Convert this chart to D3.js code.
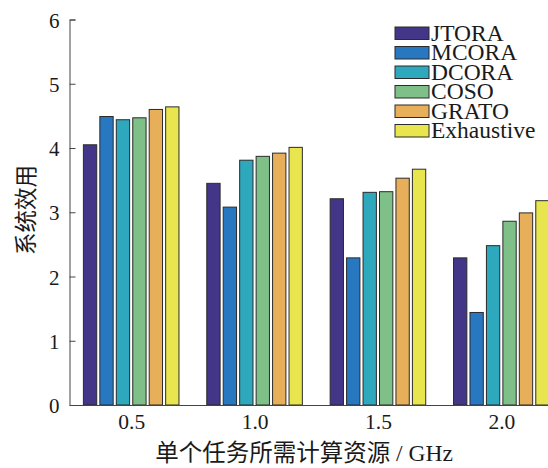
<!DOCTYPE html>
<html>
<head>
<meta charset="utf-8">
<script src="https://cdn.jsdelivr.net/npm/d3@7"></script>
<style>
  html, body { margin: 0; padding: 0; background: #fff; }
  svg { display: block; }
</style>
</head>
<body>
<svg id="chart" width="548" height="468"></svg>
<script>
// Computing resource per task (GHz) and the methods compared
const categories = ["0.5", "1.0", "1.5", "2.0"];
const seriesNames = ["JTORA", "MCORA", "DCORA", "COSO", "GRATO", "Exhaustive"];
const seriesColors = ["#433688", "#2877c1", "#2ea8bd", "#7fbf88", "#e7af59", "#e8e54f"];

// System utility per method, one value per category
const JTORA      = [4.05, 3.45, 3.21, 2.29];
const MCORA      = [4.49, 3.08, 2.29, 1.44];
const DCORA      = [4.44, 3.81, 3.31, 2.48];
const COSO       = [4.47, 3.87, 3.32, 2.86];
const GRATO      = [4.60, 3.92, 3.53, 2.99];
const Exhaustive = [4.64, 4.01, 3.67, 3.18];
const seriesValues = [JTORA, MCORA, DCORA, COSO, GRATO, Exhaustive];

const yTicks = [0, 1, 2, 3, 4, 5, 6];

const svg = d3.select("#chart");
const serif = "'Liberation Serif', 'Times New Roman', serif";
const cjk = "'Noto Sans CJK SC', 'Noto Serif CJK SC', sans-serif";

// Positions: categories sit at 1..4 on a [0.5, 4.5] axis
const x = d3.scaleLinear().domain([0.5, 4.5]).range([69.5, 563]);
const y = d3.scaleLinear().domain([0, 6]).range([405, 19.5]);

const step = x(2) - x(1);
const pitch = step * 0.8 / seriesNames.length;
const barW = pitch * 0.81;

// Bars
const groups = svg.append("g").selectAll("g")
  .data(categories)
  .join("g");

groups.selectAll("rect")
  .data((c, i) => seriesValues.map((vals, s) => ({ s, v: vals[i], c: i + 1 })))
  .join("rect")
  .attr("x", d => x(d.c) + (d.s - (seriesNames.length - 1) / 2) * pitch - barW / 2)
  .attr("y", d => y(d.v))
  .attr("width", barW)
  .attr("height", d => y(0) - y(d.v))
  .attr("fill", d => seriesColors[d.s])
  .attr("stroke", "#2b2b2b")
  .attr("stroke-width", 1);

// Y axis with inward ticks
const yAxis = svg.append("g")
  .attr("transform", `translate(${x(0.5)},0)`)
  .call(d3.axisLeft(y).tickValues(yTicks).tickSize(-6).tickPadding(10).tickFormat(d3.format("d")));
yAxis.select(".domain").attr("stroke", "#444").attr("stroke-width", 1);
yAxis.selectAll(".tick line").attr("stroke", "#444");
yAxis.selectAll("text")
  .attr("font-family", serif).attr("font-size", 21).attr("fill", "#1a1a1a")
  .attr("dy", "0.36em");

// X axis
const xAxis = svg.append("g")
  .attr("transform", `translate(0,${y(0)})`)
  .call(d3.axisBottom(x).tickValues([1, 2, 3, 4]).tickSize(0).tickPadding(9)
    .tickFormat((d, i) => categories[i]));
xAxis.select(".domain").attr("stroke", "#444").attr("stroke-width", 1);
xAxis.selectAll("text")
  .attr("font-family", serif).attr("font-size", 21.5).attr("fill", "#1a1a1a");

// Axis titles
svg.append("text")
  .attr("x", 304).attr("y", 461)
  .attr("text-anchor", "middle")
  .attr("font-size", 23.5).attr("fill", "#1a1a1a")
  .html(`<tspan font-family="${cjk}">单个任务所需计算资源</tspan><tspan font-family="${serif}"> / GHz</tspan>`);

svg.append("text")
  .attr("transform", "translate(34,210) rotate(-90)")
  .attr("text-anchor", "middle")
  .attr("font-family", cjk).attr("font-size", 22.5).attr("fill", "#1a1a1a")
  .text("系统效用");

// Legend
const legend = svg.append("g").attr("transform", "translate(395,27)");
const rowH = 19.5;
const items = legend.selectAll("g")
  .data(seriesNames)
  .join("g")
  .attr("transform", (d, i) => `translate(0,${i * rowH})`);
items.append("rect")
  .attr("width", 34).attr("height", 12.5)
  .attr("fill", (d, i) => seriesColors[i])
  .attr("stroke", "#2b2b2b").attr("stroke-width", 1);
items.append("text")
  .attr("x", 36).attr("y", 13.5)
  .attr("font-family", serif).attr("font-size", 23.5).attr("fill", "#1a1a1a")
  .text(d => d);
</script>
</body>
</html>
